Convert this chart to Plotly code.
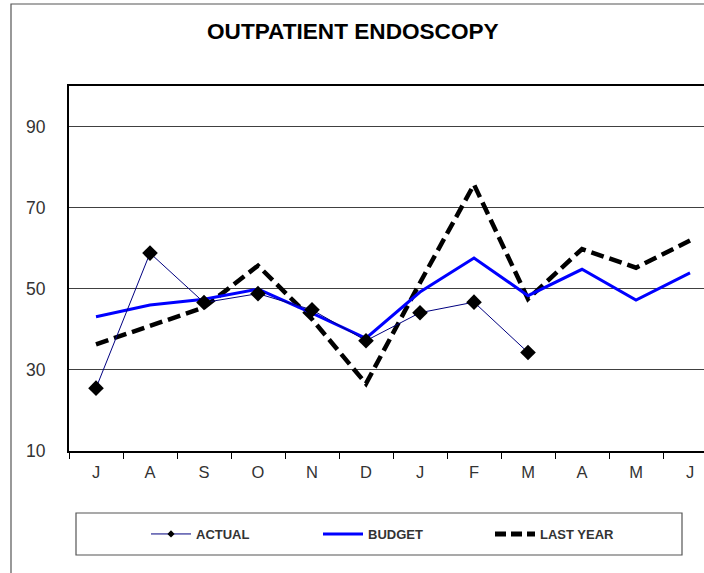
import plotly.graph_objects as go

months = ["J", "A", "S", "O", "N", "D", "J", "F", "M", "A", "M", "J"]
actual = [25.5, 58.8, 46.6, 48.8, 44.8, 37.2, 44.1, 46.7, 34.3]
budget = [43.1, 46.0, 47.4, 49.9, 44.0, 37.8, 49.2, 57.6, 48.3, 54.8, 47.2, 53.9]
last_year = [36.3, 40.9, 45.4, 55.7, 42.5, 26.6, 51.5, 75.7, 47.5, 59.8, 55.2, 61.9]
y_ticks = [10, 30, 50, 70, 90]

series_names = ["ACTUAL", "BUDGET", "LAST YEAR"]

FONT = "Arial, Liberation Sans, sans-serif"
W, H = 704, 573
L, R, T, B = 69, 0, 86, 122
PW = W - L - R
PH = H - T - B
CAT = 54.0  # px per category


def px_x(px):
    return (px - L) / PW


def px_y(py):
    return (H - B - py) / PH


xs = list(range(len(months)))

fig = go.Figure()

LY_DASH = "13px,6px"

fig.add_trace(go.Scatter(
    x=xs[:len(last_year)], y=last_year, mode="lines", name=series_names[2],
    line=dict(color="black", width=4.5, dash=LY_DASH), showlegend=False,
))
fig.add_trace(go.Scatter(
    x=xs[:len(budget)], y=budget, mode="lines", name=series_names[1],
    line=dict(color="#0000ff", width=3), showlegend=False,
))
fig.add_trace(go.Scatter(
    x=xs[:len(actual)], y=actual, mode="lines+markers", name=series_names[0],
    line=dict(color="#000080", width=1),
    marker=dict(symbol="diamond", size=12, color="black"), showlegend=False,
))

# legend entries
fig.add_trace(go.Scatter(
    x=[None], y=[None], mode="lines+markers", name=series_names[0],
    line=dict(color="#000080", width=1),
    marker=dict(symbol="diamond", size=5.5, color="black"),
))
fig.add_trace(go.Scatter(
    x=[None], y=[None], mode="lines", name=series_names[1],
    line=dict(color="#0000ff", width=3),
))
fig.add_trace(go.Scatter(
    x=[None], y=[None], mode="lines", name=series_names[2],
    line=dict(color="black", width=5, dash="11px,5px"),
))

x_max = -0.5 + PW / CAT

fig.update_layout(
    width=W, height=H, autosize=False,
    margin=dict(l=L, r=R, t=T, b=B, pad=0),
    paper_bgcolor="white", plot_bgcolor="white",
    font=dict(family=FONT, color="#333333"),
    xaxis=dict(
        range=[-0.5, x_max], tickvals=xs, ticktext=months,
        ticks="", showgrid=False, zeroline=False,
        showline=True, mirror=True, linecolor="black", linewidth=2,
        tickfont=dict(size=16.5, color="#333333"),
        ticklabelstandoff=5,
        minor=dict(tickvals=[i - 0.5 for i in range(len(months) + 1)],
                   ticks="outside", ticklen=6, tickcolor="black", tickwidth=1,
                   showgrid=False),
        fixedrange=True,
    ),
    yaxis=dict(
        range=[10, 100], tickvals=y_ticks, ticks="",
        showgrid=True, gridcolor="#404040", gridwidth=1, zeroline=False,
        showline=True, linecolor="black", linewidth=2,
        tickfont=dict(size=17.5, color="#333333"),
        ticklabelstandoff=18,
        fixedrange=True,
    ),
    showlegend=True,
    legend=dict(
        orientation="h", x=px_x(146), y=px_y(534), xanchor="left", yanchor="middle",
        font=dict(size=13, color="#333333", family=FONT, weight="bold"),
        entrywidth=117, entrywidthmode="pixels",
        bgcolor="rgba(0,0,0,0)", borderwidth=0, itemwidth=40,
        traceorder="normal",
    ),
    annotations=[dict(
        text="<b>OUTPATIENT ENDOSCOPY</b>", xref="paper", yref="paper",
        x=px_x(353), y=px_y(32), xanchor="center", yanchor="middle",
        showarrow=False, font=dict(size=22.6, color="black", family=FONT),
    )],
    shapes=[
        dict(type="rect", xref="paper", yref="paper",
             x0=px_x(11), x1=px_x(760), y0=px_y(640), y1=px_y(4),
             line=dict(color="#555555", width=1.2), fillcolor="rgba(0,0,0,0)", layer="below"),
        dict(type="rect", xref="paper", yref="paper",
             x0=px_x(76), x1=px_x(682), y0=px_y(555), y1=px_y(513),
             line=dict(color="#555555", width=1.2), fillcolor="rgba(0,0,0,0)", layer="below"),
    ],
)

fig.write_html(
    "out.html",
    config={"displayModeBar": False},
    post_script=["document.body.style.margin='0px';document.body.style.overflow='hidden';"],
)
